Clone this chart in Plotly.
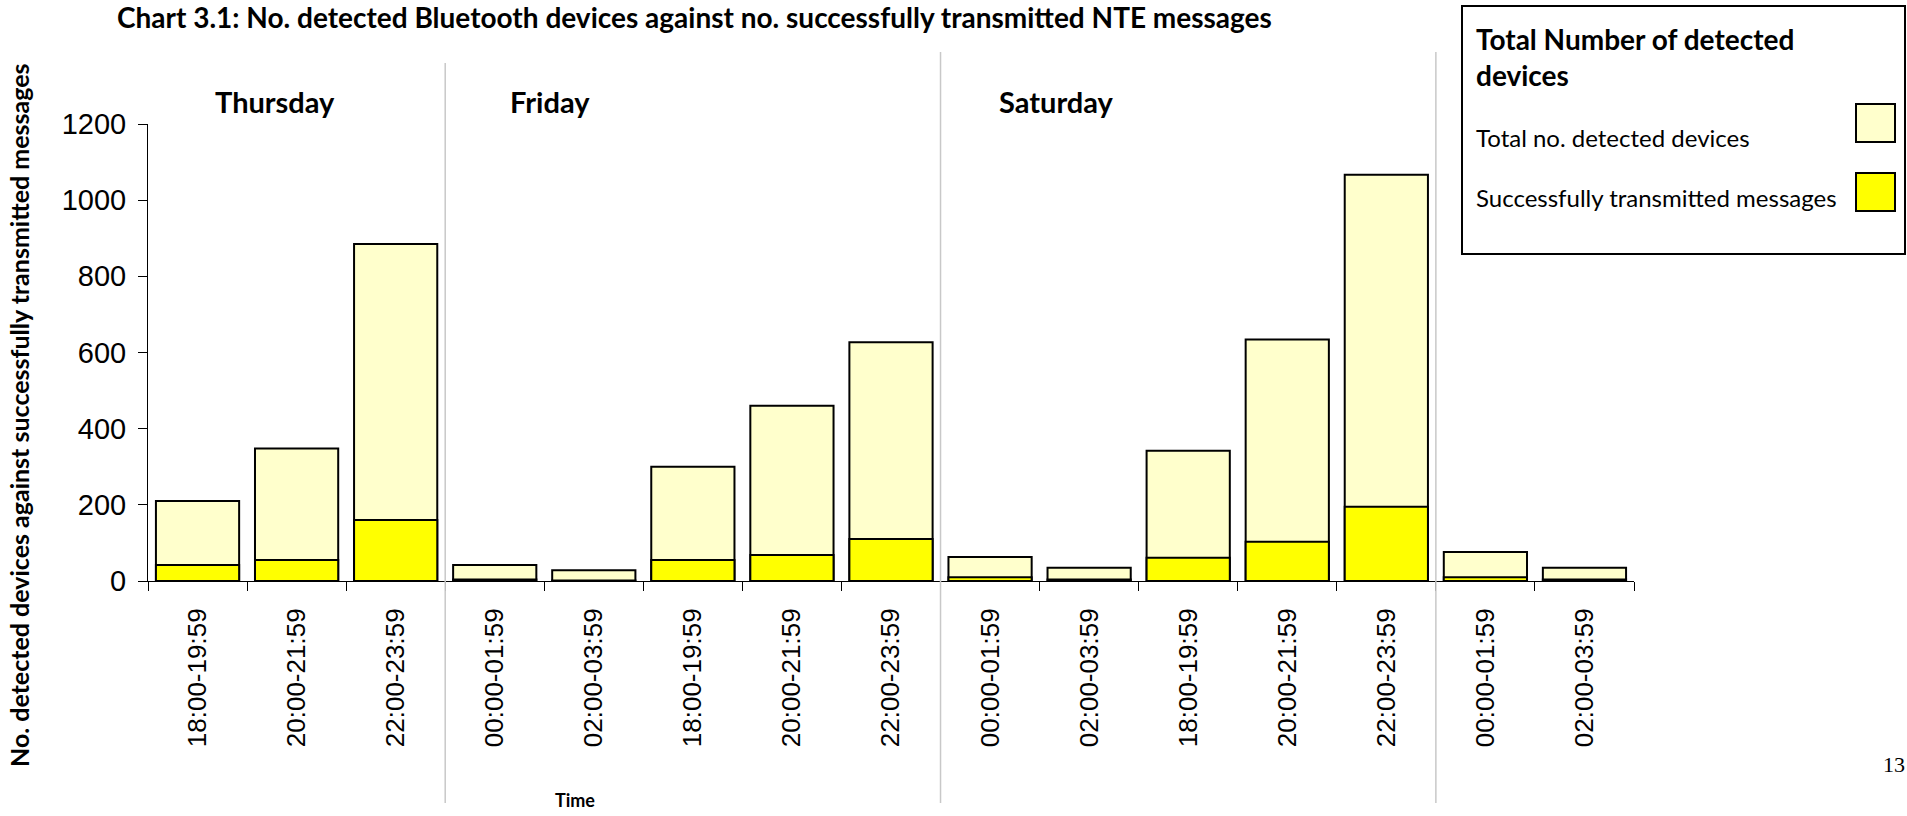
import plotly.graph_objects as go

# Two-hour time slots over the weekend
days = ["Thursday", "Thursday", "Thursday",
        "Friday", "Friday", "Friday", "Friday", "Friday",
        "Saturday", "Saturday", "Saturday", "Saturday", "Saturday",
        "Sunday", "Sunday"]
time_slots = ["18:00-19:59", "20:00-21:59", "22:00-23:59",
              "00:00-01:59", "02:00-03:59", "18:00-19:59", "20:00-21:59", "22:00-23:59",
              "00:00-01:59", "02:00-03:59", "18:00-19:59", "20:00-21:59", "22:00-23:59",
              "00:00-01:59", "02:00-03:59"]
total_devices = [210, 348, 885, 42, 28, 300, 460, 627, 63, 35, 342, 634, 1067, 76, 35]
transmitted = [42, 55, 160, 4, 1, 55, 68, 110, 10, 4, 61, 103, 195, 10, 4]
day_labels = ["Thursday", "Friday", "Saturday"]
y_ticks = [0, 200, 400, 600, 800, 1000, 1200]

W, H = 1907, 816
L, R, T, B = 148, 273, 124, 235
PW, PH = W - L - R, H - T - B


def px_x(p):
    return (p - L) / PW


def px_y(p):
    return (H - B - p) / PH


x = list(range(len(time_slots)))
AXIS_FONT = "Liberation Sans, Arial, sans-serif"
TEXT_FONT = "Lato, 'Open Sans', sans-serif"

fig = go.Figure()
fig.add_trace(go.Bar(x=x, y=total_devices, name="Total no. detected devices",
                     marker=dict(color="#FFFFCC", line=dict(color="black", width=2)),
                     width=0.84))
fig.add_trace(go.Bar(x=x, y=transmitted, name="Successfully transmitted messages",
                     marker=dict(color="#FFFF00", line=dict(color="black", width=2)),
                     width=0.84))

shapes = []
annotations = []

# Day separators at the slot boundaries where the day changes
for i in range(1, len(days)):
    if days[i] != days[i - 1]:
        top = 63 if days[i] == "Friday" else 52
        shapes.append(dict(type="line", xref="x", yref="paper",
                           x0=i - 0.5, x1=i - 0.5, y0=px_y(803), y1=px_y(top),
                           line=dict(color="#C8C8C8", width=1.5)))

# Day names near the start of each day's group
for d, off in zip(day_labels, [0.66, 0.63, 0.57]):
    start = days.index(d) - 0.5
    annotations.append(dict(xref="x", yref="paper", x=start + off, y=px_y(101),
                            xanchor="left", yanchor="middle", showarrow=False,
                            text="<b>%s</b>" % d,
                            font=dict(family=TEXT_FONT, size=29, color="black")))

# Chart title
annotations.append(dict(xref="paper", yref="paper", x=px_x(115), y=px_y(17),
                        xanchor="left", yanchor="middle", showarrow=False,
                        text="<b>Chart 3.1: No. detected Bluetooth devices against no. successfully transmitted NTE messages</b>",
                        font=dict(family=TEXT_FONT, size=28, color="black")))

# Axis titles
annotations.append(dict(xref="paper", yref="paper", x=px_x(19), y=px_y(415),
                        xanchor="center", yanchor="middle", showarrow=False, textangle=-90,
                        text="<b>No. detected devices against successfully transmitted messages</b>",
                        font=dict(family=TEXT_FONT, size=25, color="black")))
annotations.append(dict(xref="paper", yref="paper", x=px_x(575), y=px_y(800),
                        xanchor="center", yanchor="middle", showarrow=False,
                        text="<b>Time</b>",
                        font=dict(family=TEXT_FONT, size=18, color="black")))

# Page number
annotations.append(dict(xref="paper", yref="paper", x=px_x(1894), y=px_y(764),
                        xanchor="center", yanchor="middle", showarrow=False,
                        text="13",
                        font=dict(family="Liberation Serif, serif", size=22, color="black")))

# Legend box drawn by hand
shapes.append(dict(type="rect", xref="paper", yref="paper",
                   x0=px_x(1462), x1=px_x(1905), y0=px_y(254), y1=px_y(6),
                   line=dict(color="black", width=2), fillcolor="white", layer="below"))
annotations.append(dict(xref="paper", yref="paper", x=px_x(1474), y=px_y(57),
                        xanchor="left", yanchor="middle", showarrow=False, align="left",
                        text="<b>Total Number of detected<br>devices</b>",
                        font=dict(family=TEXT_FONT, size=28, color="black")))
legend_rows = [("Total no. detected devices", "#FFFFCC", 137, 104, 142),
               ("Successfully transmitted messages", "#FFFF00", 197, 173, 211)]
for label, color, ty, s0, s1 in legend_rows:
    annotations.append(dict(xref="paper", yref="paper", x=px_x(1474), y=px_y(ty),
                            xanchor="left", yanchor="middle", showarrow=False,
                            text=label, font=dict(family=TEXT_FONT, size=24, color="black")))
    shapes.append(dict(type="rect", xref="paper", yref="paper",
                       x0=px_x(1856), x1=px_x(1895), y0=px_y(s1), y1=px_y(s0),
                       line=dict(color="black", width=2), fillcolor=color))

fig.update_layout(
    width=W, height=H,
    margin=dict(l=L, r=R, t=T, b=B, pad=0),
    paper_bgcolor="white", plot_bgcolor="white",
    barmode="overlay",
    showlegend=False,
    shapes=shapes,
    annotations=annotations,
    xaxis=dict(range=[-0.5, len(x) - 0.5], tickmode="array", tickvals=x, ticktext=time_slots,
               tickangle=-90, ticks="", showgrid=False, zeroline=False,
               showline=True, linecolor="black", linewidth=1,
               ticklabelstandoff=16,
               tickfont=dict(family=AXIS_FONT, size=26, color="black"),
               minor=dict(tickmode="linear", tick0=-0.5, dtick=1, ticks="outside",
                          ticklen=9, tickcolor="black", tickwidth=1, showgrid=False)),
    yaxis=dict(range=[0, 1200], tickmode="array", tickvals=y_ticks,
               ticks="outside", ticklen=9, tickcolor="black", tickwidth=1,
               ticklabelstandoff=6,
               showgrid=False, zeroline=False, showline=True, linecolor="black", linewidth=1,
               tickfont=dict(family=AXIS_FONT, size=29, color="black")),
)

fig.write_html("out.html")
